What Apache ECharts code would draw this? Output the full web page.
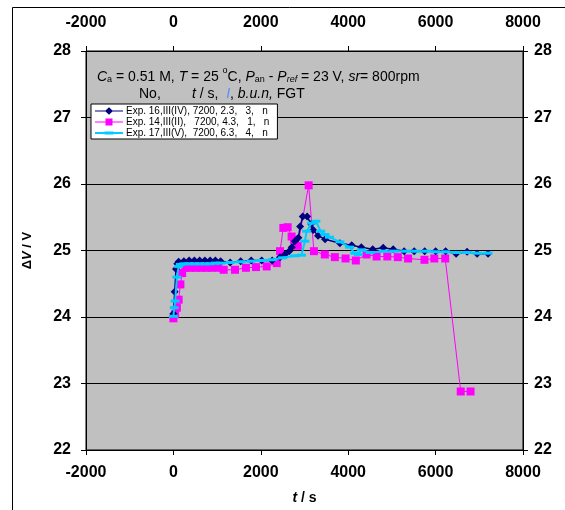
<!DOCTYPE html>
<html>
<head>
<meta charset="utf-8">
<script src="https://cdn.jsdelivr.net/npm/echarts@6/dist/echarts.min.js"></script>
<style>
  html, body { margin: 0; padding: 0; background: #fff; }
  #chart { width: 565px; height: 510px; }
</style>
</head>
<body>
<div id="chart"></div>
<script>
// Potential difference ΔV over time for three electrolysis runs (FGT)
const xTicks = [-2000, 0, 2000, 4000, 6000, 8000];
const yTicks = [22, 23, 24, 25, 26, 27, 28];

const seriesNames = [
  'Exp. 16,III(IV), 7200, 2.3,   3,   n',
  'Exp. 14,III(II),   7200, 4.3,   1,   n',
  'Exp. 17,III(V),  7200, 6.3,   4,   n'
];

// Exp. 16
const exp16T = [0, 30, 60, 90, 120, 240, 360, 480, 600, 720, 840, 960, 1080, 1300, 1540, 1780, 2020, 2260, 2440, 2550, 2650, 2710, 2780, 2860, 2900, 2960, 3060, 3150, 3200, 3310, 3470, 3810, 4080, 4300, 4560, 4800, 5030, 5280, 5510, 5750, 6000, 6230, 6470, 6720, 6950, 7200];
const exp16V = [24.05, 24.38, 24.72, 24.80, 24.83, 24.84, 24.85, 24.85, 24.85, 24.85, 24.85, 24.85, 24.84, 24.82, 24.84, 24.85, 24.85, 24.85, 24.90, 24.94, 24.99, 25.05, 25.14, 25.19, 25.36, 25.51, 25.51, 25.40, 25.31, 25.22, 25.17, 25.11, 25.08, 25.05, 25.02, 25.04, 25.02, 24.99, 24.99, 24.99, 24.99, 24.99, 24.95, 24.98, 24.95, 24.95];

// Exp. 14
const exp14T = [0, 40, 80, 120, 160, 200, 270, 390, 510, 630, 750, 870, 1030, 1150, 1410, 1660, 1890, 2135, 2365, 2440, 2515, 2615, 2705, 2760, 2845, 3095, 3215, 3465, 3695, 3940, 4175, 4420, 4650, 4895, 5135, 5370, 5745, 5970, 6220, 6575, 6800];
const exp14V = [23.98, 24.04, 24.14, 24.26, 24.49, 24.66, 24.74, 24.74, 24.74, 24.74, 24.74, 24.74, 24.74, 24.71, 24.71, 24.74, 24.75, 24.76, 24.81, 24.99, 25.34, 25.35, 25.21, 25.16, 25.07, 25.98, 24.99, 24.94, 24.90, 24.88, 24.85, 24.94, 24.91, 24.91, 24.90, 24.88, 24.86, 24.88, 24.88, 22.88, 22.88];

// Exp. 17
const exp17T = [0, 20, 40, 80, 120, 160, 240, 360, 480, 600, 720, 840, 960, 1080, 1300, 1540, 1780, 2020, 2260, 2500, 2780, 2930, 3010, 3050, 3160, 3260, 3370, 3470, 3570, 3810, 4030, 4150, 4230, 4300, 4500, 4800, 5050, 5330, 5560, 5800, 6000, 6230, 6480, 6720, 6950, 7200];
const exp17V = [24.01, 24.14, 24.24, 24.60, 24.76, 24.79, 24.80, 24.80, 24.80, 24.80, 24.80, 24.80, 24.81, 24.81, 24.82, 24.83, 24.84, 24.85, 24.86, 24.89, 24.92, 24.93, 25.14, 25.29, 25.41, 25.44, 25.29, 25.24, 25.20, 25.13, 25.05, 24.96, 24.94, 25.01, 24.97, 24.99, 24.99, 24.99, 24.99, 24.99, 24.98, 24.98, 24.97, 24.97, 24.96, 24.96];

const pairs = (ts, vs) => ts.map((t, i) => [t, vs[i]]);

const FONT = 'Arial, "Liberation Sans", sans-serif';
const tickLabel = { fontFamily: FONT, fontWeight: 'bold', fontSize: 16, color: '#000', formatter: v => String(v) };

// legend glyphs: line with the series marker in the middle
const ICON_DIAMOND = 'path://M0,3.4H28V4.6H0Z M14,0.2L18,4L14,7.8L10,4Z';
const ICON_SQUARE = 'path://M0,3.5H28V4.5H0Z M10.5,0.5H17.5V7.5H10.5Z';
const ICON_DASH = 'path://M0,3.1H28V4.9H0Z M9.5,2.4H18.5V5.6H9.5Z';

const chart = echarts.init(document.getElementById('chart'), null, { renderer: 'canvas' });

const xCommon = {
  type: 'value', min: xTicks[0], max: xTicks[xTicks.length - 1], interval: 2000,
  axisLine: { show: true, onZero: false, lineStyle: { color: '#000', width: 1 } },
  axisTick: { show: true, length: 5, lineStyle: { color: '#000' } },
  splitLine: { show: false }
};
const yCommon = {
  type: 'value', min: yTicks[0], max: yTicks[yTicks.length - 1], interval: 1,
  axisLine: { show: true, onZero: false, lineStyle: { color: '#000', width: 1 } },
  axisTick: { show: true, length: 5, lineStyle: { color: '#000' } }
};
// inner half of the crossing tick marks on the value axes
const yInner = Object.assign({}, yCommon, {
  axisLine: { show: false },
  axisTick: { show: true, inside: true, length: 5, lineStyle: { color: '#000' } },
  axisLabel: { show: false },
  splitLine: { show: false }
});

chart.setOption({
  animation: false,
  backgroundColor: '#fff',
  grid: {
    left: 86, right: 42, top: 51, bottom: 59,
    show: true, backgroundColor: '#C0C0C0', borderColor: '#000', borderWidth: 1
  },
  xAxis: [
    Object.assign({}, xCommon, {
      position: 'bottom',
      axisLabel: Object.assign({ margin: 15 }, tickLabel),
      name: '{i|t}{b| / s}', nameLocation: 'middle', nameGap: 41,
      nameTextStyle: {
        rich: {
          i: { fontFamily: FONT, fontWeight: 'bold', fontStyle: 'italic', fontSize: 14, color: '#000' },
          b: { fontFamily: FONT, fontWeight: 'bold', fontSize: 14, color: '#000' }
        }
      }
    }),
    Object.assign({}, xCommon, {
      position: 'top',
      axisLabel: Object.assign({ margin: 20 }, tickLabel)
    })
  ],
  yAxis: [
    Object.assign({}, yCommon, {
      position: 'left',
      axisLabel: Object.assign({ margin: 15 }, tickLabel),
      splitLine: { show: true, lineStyle: { color: '#000', width: 1 } },
      name: '{b|Δ}{i|V}{b| / V}', nameLocation: 'middle', nameGap: 52,
      nameTextStyle: {
        rich: {
          i: { fontFamily: FONT, fontWeight: 'bold', fontStyle: 'italic', fontSize: 13, color: '#000' },
          b: { fontFamily: FONT, fontWeight: 'bold', fontSize: 13, color: '#000' }
        }
      }
    }),
    Object.assign({}, yCommon, {
      position: 'right',
      axisLabel: Object.assign({ margin: 11 }, tickLabel),
      splitLine: { show: false }
    }),
    Object.assign({}, yInner, { position: 'left' }),
    Object.assign({}, yInner, { position: 'right' })
  ],
  legend: {
    orient: 'vertical', left: 91, top: 104,
    itemGap: 1, itemWidth: 28, itemHeight: 8,
    padding: [2, 8, 1, 4],
    backgroundColor: '#fff', borderColor: '#000', borderWidth: 1, borderRadius: 0,
    textStyle: { fontFamily: FONT, fontSize: 10, color: '#000', padding: [0, 0, 0, -2] },
    data: [
      { name: seriesNames[0], icon: ICON_DIAMOND },
      { name: seriesNames[1], icon: ICON_SQUARE },
      { name: seriesNames[2], icon: ICON_DASH }
    ]
  },
  graphic: [
    {
      type: 'rect', z: -10, silent: true,
      shape: { x: 12.5, y: 7.5, width: 700, height: 700 },
      style: { fill: '#fff', stroke: '#000', lineWidth: 1 }
    },
    {
      type: 'text', left: 97, top: 66, z: 100,
      style: {
        text: '{i|C}{sub|a}{n| = 0.51 M, }{i|T}{n| = 25 }{sup|o}{n|C, }{i|P}{sub|an}{n| - }{i|P}{subi|ref}{n| = 23 V, }{i|sr}{n|= 800rpm}',
        rich: {
          n: { fontFamily: FONT, fontSize: 14, lineHeight: 18, verticalAlign: 'bottom', fill: '#000' },
          i: { fontFamily: FONT, fontSize: 14, fontStyle: 'italic', lineHeight: 18, verticalAlign: 'bottom', fill: '#000' },
          sub: { fontFamily: FONT, fontSize: 9, lineHeight: 10, verticalAlign: 'bottom', fill: '#000' },
          subi: { fontFamily: FONT, fontSize: 9, fontStyle: 'italic', lineHeight: 10, verticalAlign: 'bottom', fill: '#000' },
          sup: { fontFamily: FONT, fontSize: 9, lineHeight: 10, verticalAlign: 'top', fill: '#000' }
        }
      }
    },
    {
      type: 'text', left: 139, top: 87, z: 100,
      style: {
        text: '{n|No,        }{i|t}{n| / s,  }{b|I}{n|, }{i|b.u.n,}{n| FGT}',
        rich: {
          n: { fontFamily: FONT, fontSize: 14, lineHeight: 18, fill: '#000' },
          i: { fontFamily: FONT, fontSize: 14, fontStyle: 'italic', lineHeight: 18, fill: '#000' },
          b: { fontFamily: FONT, fontSize: 14, fontStyle: 'italic', lineHeight: 18, fill: '#5B8CFF' }
        }
      }
    }
  ],
  series: [
    {
      name: seriesNames[0], type: 'line', data: pairs(exp16T, exp16V),
      symbol: 'diamond', symbolSize: 8, z: 3,
      lineStyle: { color: '#000080', width: 1.5 },
      itemStyle: { color: '#000080' }
    },
    {
      name: seriesNames[1], type: 'line', data: pairs(exp14T, exp14V),
      symbol: 'rect', symbolSize: 8, z: 2,
      lineStyle: { color: '#FF00FF', width: 1 },
      itemStyle: { color: '#FF00FF' }
    },
    {
      name: seriesNames[2], type: 'line', data: pairs(exp17T, exp17V),
      symbol: 'rect', symbolSize: [9, 3], z: 4,
      lineStyle: { color: '#00CCFF', width: 2 },
      itemStyle: { color: '#00CCFF' }
    }
  ]
});
</script>
</body>
</html>
